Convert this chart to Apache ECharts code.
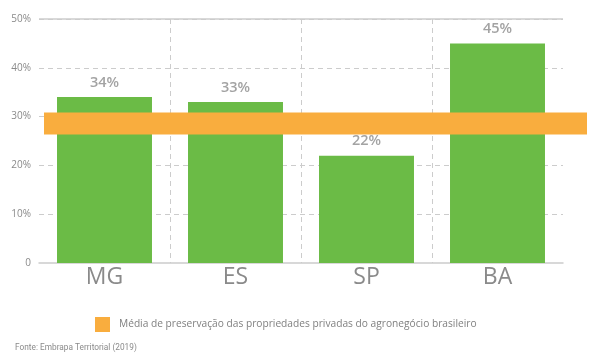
<!DOCTYPE html>
<html>
<head>
<meta charset="utf-8">
<style>html,body{margin:0;padding:0;background:#fff}#c{width:600px;height:356px}</style>
<script src="https://cdn.jsdelivr.net/npm/echarts@6/dist/echarts.min.js"></script>
</head>
<body>
<div id="c"></div>
<script>
const categories = ['MG', 'ES', 'SP', 'BA'];
const preservationValues = [34, 33, 22, 45];
const averageValue = 28.6;
const averageLabel = 'Média de preservação das propriedades privadas do agronegócio brasileiro';
const yTicks = [0, 10, 20, 30, 40, 50];
const sourceText = 'Fonte: Embrapa Territorial (2019)';

const chart = echarts.init(document.getElementById('c'), null, {renderer: 'canvas'});
const grey = '#cccccc';
chart.setOption({
  animation: false,
  title: {
    text: sourceText, left: 10, top: 339,
    textStyle: {fontFamily: 'Roboto', fontSize: 8.3, fontWeight: 'normal', color: '#8a8a8a'}
  },
  legend: {
    data: [averageLabel], left: 90, top: 312, icon: 'rect', itemWidth: 15, itemHeight: 15,
    textStyle: {fontFamily: 'Open Sans', fontSize: 10.2, color: '#808080', padding: [0, 0, 0, 4]}
  },
  grid: [
    {left: 39, right: 37, top: 19, bottom: 93},
    {left: 44, right: 13, top: 19, bottom: 93}
  ],
  xAxis: [
    {
      type: 'category', data: categories, gridIndex: 0,
      axisLine: {lineStyle: {color: grey, width: 1.5}},
      axisTick: {show: false},
      axisLabel: {fontFamily: 'Open Sans', fontSize: 23, color: '#8a8a8a', margin: 3},
      splitLine: {show: true, showMinLine: false, showMaxLine: false, lineStyle: {color: grey, type: [5, 4]}}
    },
    {type: 'value', gridIndex: 1, min: 0, max: 1, show: false}
  ],
  yAxis: [
    {
      type: 'value', gridIndex: 0, min: yTicks[0], max: yTicks[yTicks.length - 1], interval: 10,
      axisLine: {show: false}, axisTick: {show: false},
      axisLabel: {
        fontFamily: 'Open Sans', fontSize: 10, color: '#8a8a8a', margin: 8, padding: [9, 0, 0, 0],
        formatter: v => v === 0 ? '0' : v + '%'
      },
      splitLine: {show: true, showMinLine: false, lineStyle: {color: grey, type: [5, 4]}}
    },
    {type: 'value', gridIndex: 1, min: yTicks[0], max: yTicks[yTicks.length - 1], show: false}
  ],
  series: [
    {
      type: 'bar', name: 'Preservação', data: preservationValues, xAxisIndex: 0, yAxisIndex: 0,
      barWidth: '72.5%', itemStyle: {color: '#6bbb46'},
      label: {
        show: true, position: 'top', distance: 7, formatter: '{c}%',
        fontFamily: 'Open Sans', fontSize: 14.5, fontWeight: 600, color: '#a3a3a3'
      },
      markLine: {
        silent: true, symbol: 'none', label: {show: false},
        lineStyle: {color: grey, type: 'solid', width: 1.5},
        data: [{yAxis: yTicks[yTicks.length - 1]}]
      }
    },
    {
      type: 'line', name: averageLabel, xAxisIndex: 1, yAxisIndex: 1,
      data: [[0, averageValue], [1, averageValue]], symbol: 'none', z: 5,
      lineStyle: {color: '#f9ad3e', width: 22, cap: 'butt'},
      itemStyle: {color: '#f9ad3e'}
    }
  ]
});
</script>
</body>
</html>
